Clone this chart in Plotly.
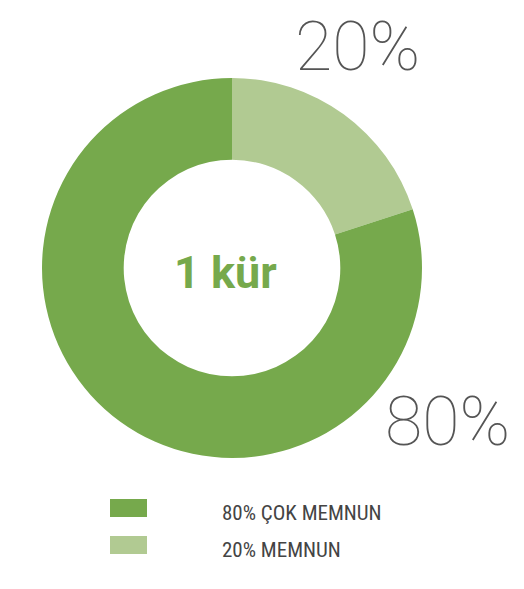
import plotly.graph_objects as go

# satisfaction split
labels = ["20% MEMNUN", "80% ÇOK MEMNUN"]
values = [20, 80]
colors = ["#b1ca92", "#76a94c"]
center_text = "1 kür"

# legend order as in the picture (top to bottom)
legend_order = [1, 0]

W, H = 524, 589
OFF = 8  # page body margin


def px_x(x):
    return (x - OFF) / W


def px_y(y):
    return 1 - (y - OFF) / H


fig = go.Figure()

fig.add_trace(go.Pie(
    labels=labels,
    values=values,
    hole=0.57,
    sort=False,
    direction="clockwise",
    rotation=0,
    marker=dict(colors=colors, line=dict(width=0)),
    textinfo="none",
    hoverinfo="label+percent",
    showlegend=False,
    domain=dict(x=[px_x(42), px_x(422)], y=[px_y(458), px_y(78)]),
))

annotations = []

# centre text
annotations.append(dict(
    x=px_x(225), y=px_y(272), xref="paper", yref="paper",
    xanchor="center", yanchor="middle",
    text="<b>" + center_text + "</b>", showarrow=False,
    font=dict(family="Liberation Sans Narrow, Roboto, sans-serif", size=45, color="#76a94c"),
))

# big percentage labels
pct_pos = {0: (357, 47), 1: (447, 422)}
for i, v in enumerate(values):
    cx, cy = pct_pos[i]
    annotations.append(dict(
        x=px_x(cx), y=px_y(cy), xref="paper", yref="paper",
        xanchor="center", yanchor="middle",
        text=f"{v}%", showarrow=False,
        font=dict(family="Roboto, Lato, sans-serif", size=68, color="#555555", weight=100),
    ))

# custom legend
shapes = []
for row, i in enumerate(legend_order):
    yc = 508 + row * 37
    shapes.append(dict(
        type="rect", xref="paper", yref="paper",
        x0=px_x(110), x1=px_x(147), y0=px_y(yc + 9), y1=px_y(yc - 9),
        fillcolor=colors[i], line=dict(width=0),
    ))
    annotations.append(dict(
        x=px_x(220), y=px_y(yc + 5), xref="paper", yref="paper",
        xanchor="left", yanchor="middle", text=labels[i], showarrow=False,
        font=dict(family="Liberation Sans Narrow, Roboto Condensed, Arial Narrow, sans-serif",
                  size=21, color="#444444"),
    ))

fig.update_layout(
    width=W, height=H,
    margin=dict(l=0, r=0, t=0, b=0),
    paper_bgcolor="white",
    plot_bgcolor="white",
    annotations=annotations,
    shapes=shapes,
)

fig.write_html("out.html")
